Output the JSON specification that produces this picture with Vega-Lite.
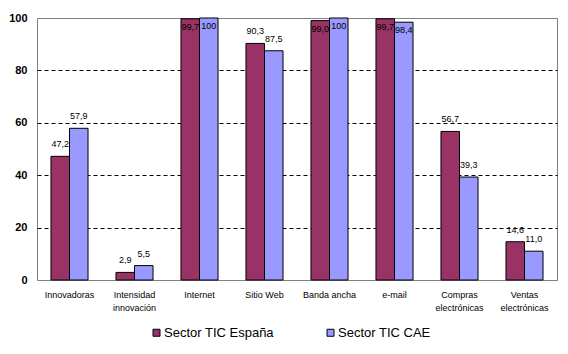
{
  "$schema": "https://vega.github.io/schema/vega-lite/v6.json",
  "width": 520,
  "height": 262,
  "autosize": {"type": "none"},
  "padding": {"left": 37, "top": 18, "right": 11, "bottom": 74},
  "background": "white",
  "config": {
    "view": {"stroke": "#808080", "strokeWidth": 1},
    "font": "Liberation Sans"
  },
  "data": {
    "values": [
      {"cat": "Innovadoras", "serie": "Sector TIC España", "value": 47.2, "label": "47,2"},
      {"cat": "Innovadoras", "serie": "Sector TIC CAE", "value": 57.9, "label": "57,9"},
      {"cat": "Intensidad innovación", "serie": "Sector TIC España", "value": 2.9, "label": "2,9"},
      {"cat": "Intensidad innovación", "serie": "Sector TIC CAE", "value": 5.5, "label": "5,5"},
      {"cat": "Internet", "serie": "Sector TIC España", "value": 99.7, "label": "99,7"},
      {"cat": "Internet", "serie": "Sector TIC CAE", "value": 100, "label": "100"},
      {"cat": "Sitio Web", "serie": "Sector TIC España", "value": 90.3, "label": "90,3"},
      {"cat": "Sitio Web", "serie": "Sector TIC CAE", "value": 87.5, "label": "87,5"},
      {"cat": "Banda ancha", "serie": "Sector TIC España", "value": 99.0, "label": "99,0"},
      {"cat": "Banda ancha", "serie": "Sector TIC CAE", "value": 100, "label": "100"},
      {"cat": "e-mail", "serie": "Sector TIC España", "value": 99.7, "label": "99,7"},
      {"cat": "e-mail", "serie": "Sector TIC CAE", "value": 98.4, "label": "98,4"},
      {"cat": "Compras electrónicas", "serie": "Sector TIC España", "value": 56.7, "label": "56,7"},
      {"cat": "Compras electrónicas", "serie": "Sector TIC CAE", "value": 39.3, "label": "39,3"},
      {"cat": "Ventas electrónicas", "serie": "Sector TIC España", "value": 14.6, "label": "14,6"},
      {"cat": "Ventas electrónicas", "serie": "Sector TIC CAE", "value": 11.0, "label": "11,0"}
    ]
  },
  "encoding": {
    "x": {
      "field": "cat",
      "type": "nominal",
      "sort": ["Innovadoras", "Intensidad innovación", "Internet", "Sitio Web", "Banda ancha", "e-mail", "Compras electrónicas", "Ventas electrónicas"],
      "scale": {"paddingInner": 0.43, "paddingOuter": 0.215},
      "axis": {
        "title": null,
        "domain": false,
        "ticks": false,
        "tickSize": 0,
        "labelAngle": 0,
        "labelPadding": 10,
        "labelFontSize": 9,
        "labelColor": "black",
        "labelLineHeight": 13,
        "labelExpr": "indexof(['Intensidad innovación','Compras electrónicas','Ventas electrónicas'], datum.value) >= 0 ? split(datum.value, ' ') : datum.value"
      }
    },
    "xOffset": {"field": "serie", "type": "nominal", "sort": ["Sector TIC España", "Sector TIC CAE"]}
  },
  "layer": [
    {
      "mark": {"type": "bar", "stroke": "black", "strokeWidth": 1},
      "encoding": {
        "y": {
          "field": "value",
          "type": "quantitative",
          "scale": {"domain": [0, 100]},
          "axis": {
            "title": null,
            "domain": false,
            "ticks": false,
            "tickSize": 0,
            "values": [0, 20, 40, 60, 80, 100],
            "labelPadding": 10,
            "labelFontSize": 11,
            "labelFontWeight": "bold",
            "labelColor": "black",
            "grid": true,
            "gridDash": [4, 3],
            "gridColor": {"condition": {"test": "datum.value == 0 || datum.value == 100", "value": "transparent"}, "value": "black"}
          }
        },
        "color": {
          "field": "serie",
          "type": "nominal",
          "sort": ["Sector TIC España", "Sector TIC CAE"],
          "scale": {"domain": ["Sector TIC España", "Sector TIC CAE"], "range": ["#993366", "#9999FF"]},
          "legend": {
            "title": null,
            "orient": "none",
            "legendX": 113,
            "legendY": 308,
            "direction": "horizontal",
            "symbolType": "square",
            "symbolSize": 49,
            "symbolStrokeColor": "black",
            "symbolStrokeWidth": 1,
            "symbolOpacity": 1,
            "labelFontSize": 13,
            "labelOffset": 1,
            "labelColor": "black",
            "columnPadding": 50
          }
        }
      }
    },
    {
      "transform": [{"filter": "datum.value < 97"}],
      "mark": {"type": "text", "dy": -9, "baseline": "alphabetic", "fontSize": 9, "color": "black"},
      "encoding": {
        "y": {"field": "value", "type": "quantitative"},
        "text": {"field": "label"}
      }
    },
    {
      "transform": [{"filter": "datum.value >= 97"}],
      "mark": {"type": "text", "dy": 11, "baseline": "alphabetic", "fontSize": 9, "color": "black"},
      "encoding": {
        "y": {"field": "value", "type": "quantitative"},
        "text": {"field": "label"}
      }
    }
  ]
}
